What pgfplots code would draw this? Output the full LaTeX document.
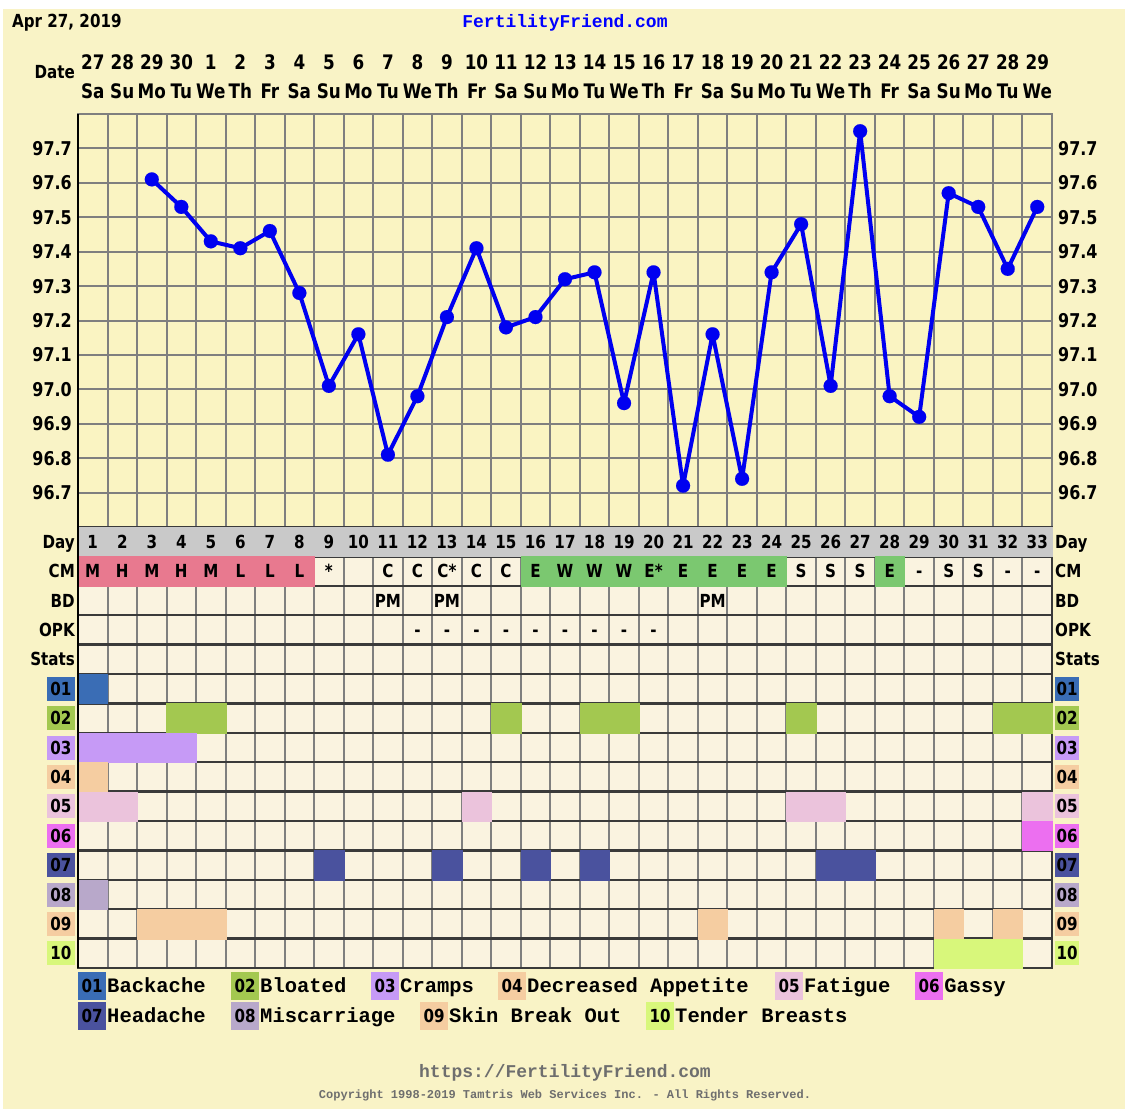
\documentclass[border=0pt]{standalone}
\usepackage{pgfplots}
\pgfplotsset{compat=1.18}
\usepackage{pgfplotstable}
\usepackage{fontspec}
\setmainfont{DejaVu Sans}[FakeStretch=0.84]
\newfontfamily\mono{Liberation Mono}
\definecolor{bgc}{HTML}{F9F3C6}
\definecolor{tempc}{HTML}{FAF4C2}
\definecolor{rowc}{HTML}{FAF3E0}
\definecolor{dayc}{HTML}{C9C9C9}
\definecolor{pinkc}{HTML}{E8798F}
\definecolor{greenc}{HTML}{7BC870}
\definecolor{gridc}{HTML}{7F7F7F}
\definecolor{darkc}{HTML}{3A3A3A}
\definecolor{linec}{HTML}{0000F0}
\definecolor{footc}{HTML}{6E6E6E}
\definecolor{c01}{HTML}{3A6DB5}
\definecolor{c02}{HTML}{A3C850}
\definecolor{c03}{HTML}{C69AF6}
\definecolor{c04}{HTML}{F5CDA1}
\definecolor{c05}{HTML}{EBC3DC}
\definecolor{c06}{HTML}{EC6FF0}
\definecolor{c07}{HTML}{4A529E}
\definecolor{c08}{HTML}{B8A8CA}
\definecolor{c09}{HTML}{F5CDA1}
\definecolor{c10}{HTML}{D8F77B}
\newcommand\hf{\bfseries\fontsize{18}{18}\selectfont}
\newcommand\lab[3]{{\setlength{\fboxsep}{0pt}\colorbox{#1}{\rule[-5.5pt]{0pt}{24pt}\hspace{#3}#2\hspace{#3}}}}
\newcommand\leg[2]{{\setlength{\fboxsep}{0pt}\colorbox{#1}{\rule[-8pt]{0pt}{28pt}\hspace{3.5pt}#2\hspace{3.5pt}}}}
\newcommand\legitem[5]{\node[anchor=base west,inner sep=0pt] at (#1pt,-#2pt) {\hf\leg{#3}{#4}\hspace{1pt}{\mono\bfseries\fontsize{20.5}{20.5}\selectfont #5}};}

\pgfplotstableread{
day temp
3 97.61
4 97.53
5 97.43
6 97.41
7 97.46
8 97.28
9 97.01
10 97.16
11 96.81
12 96.98
13 97.21
14 97.41
15 97.18
16 97.21
17 97.32
18 97.34
19 96.96
20 97.34
21 96.72
22 97.16
23 96.74
24 97.34
25 97.48
26 97.01
27 97.75
28 96.98
29 96.92
30 97.57
31 97.53
32 97.35
33 97.53
}\temps

\pgfplotstableread{
x y t
1 1 1
2 1 2
3 1 3
4 1 4
5 1 5
6 1 6
7 1 7
8 1 8
9 1 9
10 1 10
11 1 11
12 1 12
13 1 13
14 1 14
15 1 15
16 1 16
17 1 17
18 1 18
19 1 19
20 1 20
21 1 21
22 1 22
23 1 23
24 1 24
25 1 25
26 1 26
27 1 27
28 1 28
29 1 29
30 1 30
31 1 31
32 1 32
33 1 33
}\daytab

\pgfplotstableread{
x y t
1 2 M
2 2 H
3 2 M
4 2 H
5 2 M
6 2 L
7 2 L
8 2 L
9 2 *
11 2 C
12 2 C
13 2 C*
14 2 C
15 2 C
16 2 E
17 2 W
18 2 W
19 2 W
20 2 E*
21 2 E
22 2 E
23 2 E
24 2 E
25 2 S
26 2 S
27 2 S
28 2 E
29 2 -
30 2 S
31 2 S
32 2 -
33 2 -
11 3 PM
13 3 PM
22 3 PM
12 4 -
13 4 -
14 4 -
15 4 -
16 4 -
17 4 -
18 4 -
19 4 -
20 4 -
}\celltab

\pgfplotsset{
  cell/.style={only marks, mark=square*, mark size=14.76pt, mark options={line width=0.1pt}},
  txt/.style={only marks, mark=none, nodes near coords, point meta=explicit symbolic,
    every node near coord/.append style={font=\hf, black, anchor=center, inner sep=0pt, text height=13pt, text depth=0pt}},
}

\begin{document}
\begin{tikzpicture}
\fill[white] (0pt,0pt) rectangle (1125pt,-1109pt);
\fill[bgc] (3pt,-9pt) rectangle (1125pt,-1109pt);

% ---------- temperature ----------
\begin{axis}[name=temp,
  at={(78pt,-114pt)}, anchor=north west, scale only axis, width=974pt, height=413pt,
  xmin=0.5, xmax=33.5, ymin=96.6, ymax=97.8,
  axis background/.style={fill=tempc},
  xtick={1,...,33},
  xticklabels={{27\\Sa},{28\\Su},{29\\Mo},{30\\Tu},{1\\We},{2\\Th},{3\\Fr},{4\\Sa},{5\\Su},{6\\Mo},{7\\Tu},{8\\We},{9\\Th},{10\\Fr},{11\\Sa},{12\\Su},{13\\Mo},{14\\Tu},{15\\We},{16\\Th},{17\\Fr},{18\\Sa},{19\\Su},{20\\Mo},{21\\Tu},{22\\We},{23\\Th},{24\\Fr},{25\\Sa},{26\\Su},{27\\Mo},{28\\Tu},{29\\We}},
  xticklabel pos=upper,
  minor xtick={0.5,1.5,...,33.5}, xminorgrids,
  ytick={96.7,96.8,96.9,97.0,97.1,97.2,97.3,97.4,97.5,97.6,97.7},
  yticklabels={96.7,96.8,96.9,97.0,97.1,97.2,97.3,97.4,97.5,97.6,97.7},
  ymajorgrids,
  major tick length=0pt, minor tick length=0pt,
  major grid style={gridc, line width=2pt},
  minor grid style={gridc, line width=2pt},
  axis line style={gridc, line width=2pt},
  xticklabel style={font=\bfseries\fontsize{20}{29}\selectfont, align=center, inner sep=0pt, anchor=south, yshift=15pt},
  yticklabel style={font=\bfseries\fontsize{19}{19}\selectfont, inner sep=0pt, xshift=-6pt},
  clip=false,
]
\addplot[linec, line width=4pt, line join=round, mark=*, mark size=7pt, mark options={fill=linec, line width=0.1pt}] table[x=day, y=temp] {\temps};
\end{axis}

\begin{axis}[
  at={(78pt,-114pt)}, anchor=north west, scale only axis, width=974pt, height=413pt,
  xmin=0.5, xmax=33.5, ymin=96.6, ymax=97.8,
  axis line style={draw=none}, xtick=\empty,
  ytick={96.7,96.8,96.9,97.0,97.1,97.2,97.3,97.4,97.5,97.6,97.7},
  yticklabels={96.7,96.8,96.9,97.0,97.1,97.2,97.3,97.4,97.5,97.6,97.7},
  yticklabel pos=right, major tick length=0pt,
  yticklabel style={font=\bfseries\fontsize{19}{19}\selectfont, inner sep=0pt, xshift=6pt},
]
\addplot[draw=none] coordinates {(1,97)};
\end{axis}

% ---------- rows ----------
\begin{axis}[name=rows,
  at={(78pt,-527pt)}, anchor=north west, scale only axis, width=974pt, height=441pt,
  xmin=0.5, xmax=33.5, ymin=0.5, ymax=15.5, y dir=reverse,
  axis background/.style={fill=rowc},
  axis on top,
  xtick={0.5,1.5,...,33.5}, xticklabels={}, xmajorgrids,
  ytick={1,...,15},
  yticklabels={Day,CM,BD,OPK,Stats,{\lab{c01}{01}{3.5pt}},{\lab{c02}{02}{3.5pt}},{\lab{c03}{03}{3.5pt}},{\lab{c04}{04}{3.5pt}},{\lab{c05}{05}{3.5pt}},{\lab{c06}{06}{3.5pt}},{\lab{c07}{07}{3.5pt}},{\lab{c08}{08}{3.5pt}},{\lab{c09}{09}{3.5pt}},{\lab{c10}{10}{3.5pt}}},
  minor ytick={0.5,1.5,...,15.5}, yminorgrids,
  major tick length=0pt, minor tick length=0pt,
  major grid style={gridc, line width=2pt},
  minor grid style={darkc, line width=2.5pt},
  axis line style={darkc, line width=2.5pt},
  yticklabel style={font=\hf, inner sep=0pt, xshift=-3pt, text height=13pt, text depth=0pt},
]
\addplot[cell, dayc] table[x=x, y=y] {\daytab};
\addplot[cell, pinkc] coordinates {(1,2)(2,2)(3,2)(4,2)(5,2)(6,2)(7,2)(8,2)};
\addplot[cell, greenc] coordinates {(16,2)(17,2)(18,2)(19,2)(20,2)(21,2)(22,2)(23,2)(24,2)(28,2)};
\addplot[cell, c01] coordinates {(1,6)};
\addplot[cell, c02] coordinates {(4,7)(5,7)(15,7)(18,7)(19,7)(25,7)(32,7)(33,7)};
\addplot[cell, c03] coordinates {(1,8)(2,8)(3,8)(4,8)};
\addplot[cell, c04] coordinates {(1,9)};
\addplot[cell, c05] coordinates {(1,10)(2,10)(14,10)(25,10)(26,10)(33,10)};
\addplot[cell, c06] coordinates {(33,11)};
\addplot[cell, c07] coordinates {(9,12)(13,12)(16,12)(18,12)(26,12)(27,12)};
\addplot[cell, c08] coordinates {(1,13)};
\addplot[cell, c09] coordinates {(3,14)(4,14)(5,14)(22,14)(30,14)(32,14)};
\addplot[cell, c10] coordinates {(30,15)(31,15)(32,15)};
\addplot[txt] table[x=x, y=y, meta=t] {\daytab};
\addplot[txt] table[x=x, y=y, meta=t] {\celltab};
\end{axis}

\begin{axis}[
  at={(78pt,-527pt)}, anchor=north west, scale only axis, width=974pt, height=441pt,
  xmin=0.5, xmax=33.5, ymin=0.5, ymax=15.5, y dir=reverse,
  axis line style={draw=none}, xtick=\empty,
  ytick={1,...,15},
  yticklabels={Day,CM,BD,OPK,Stats,{\lab{c01}{01}{1.5pt}},{\lab{c02}{02}{1.5pt}},{\lab{c03}{03}{1.5pt}},{\lab{c04}{04}{1.5pt}},{\lab{c05}{05}{1.5pt}},{\lab{c06}{06}{1.5pt}},{\lab{c07}{07}{1.5pt}},{\lab{c08}{08}{1.5pt}},{\lab{c09}{09}{1.5pt}},{\lab{c10}{10}{1.5pt}}},
  yticklabel pos=right, major tick length=0pt,
  yticklabel style={font=\hf, inner sep=0pt, xshift=3pt, text height=13pt, text depth=0pt},
]
\addplot[draw=none] coordinates {(1,1)};
\end{axis}

\draw[black, line width=2.5pt] (temp.north west) -- (rows.south west);

% ---------- texts ----------
\node[anchor=base west, inner sep=0pt, font=\hf] at (12pt,-27pt) {Apr 27, 2019};
\node[anchor=base, inner sep=0pt, text=blue] at (565pt,-27pt) {\mono\bfseries\fontsize{18}{18}\selectfont FertilityFriend.com};
\node[anchor=base east, inner sep=0pt, font=\hf] at (75pt,-78.5pt) {Date};

\legitem{78}{992}{c01}{01}{Backache}
\legitem{231}{992}{c02}{02}{Bloated}
\legitem{371}{992}{c03}{03}{Cramps}
\legitem{498}{992}{c04}{04}{Decreased Appetite}
\legitem{775}{992}{c05}{05}{Fatigue}
\legitem{915}{992}{c06}{06}{Gassy}
\legitem{78}{1022}{c07}{07}{Headache}
\legitem{231}{1022}{c08}{08}{Miscarriage}
\legitem{420}{1022}{c09}{09}{Skin Break Out}
\legitem{646}{1022}{c10}{10}{Tender Breasts}

\node[anchor=base, inner sep=0pt, text=footc] at (565pt,-1077pt) {\mono\bfseries\fontsize{18}{18}\selectfont https://FertilityFriend.com};
\node[anchor=base, inner sep=0pt, text=footc] at (565pt,-1098pt) {\mono\bfseries\fontsize{12}{12}\selectfont Copyright 1998-2019 Tamtris Web Services Inc. - All Rights Reserved.};

\pgfresetboundingbox
\path[use as bounding box] (0pt,0pt) rectangle (1125pt,-1109pt);
\end{tikzpicture}
\end{document}
